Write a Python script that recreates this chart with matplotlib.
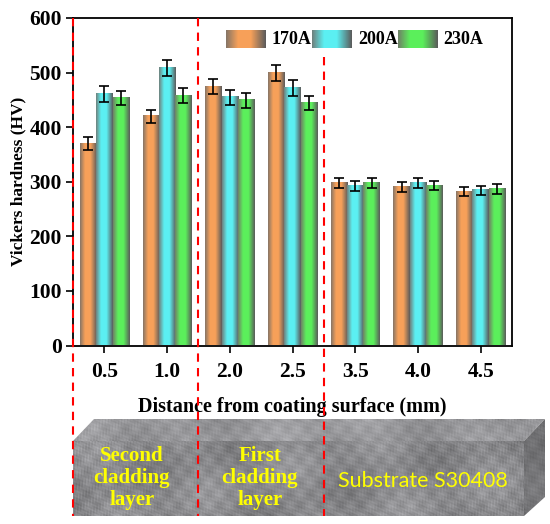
import matplotlib
matplotlib.use("Agg")
import matplotlib.pyplot as plt
import numpy as np
from matplotlib.patches import Polygon
from matplotlib.lines import Line2D
from matplotlib.transforms import blended_transform_factory

plt.rcParams["font.family"] = ["Liberation Serif", "DejaVu Serif"]
plt.rcParams["font.weight"] = "bold"

# ── data ──
distances = ["0.5", "1.0", "2.0", "2.5", "3.5", "4.0", "4.5"]
currents = ["170A", "200A", "230A"]
hv_170 = [370, 420, 474, 499, 297, 291, 282]
hv_200 = [461, 508, 455, 472, 292, 297, 284]
hv_230 = [453, 458, 449, 445, 298, 293, 287]
err_170 = [12, 12, 14, 14, 9, 9, 8]
err_200 = [14, 15, 14, 14, 9, 9, 8]
err_230 = [13, 13, 13, 13, 9, 9, 9]
zone_edges = [-0.5, 1.5, 3.5]

C_ORANGE = np.array([0.97, 0.63, 0.35])
C_CYAN = np.array([0.36, 0.94, 0.95])
C_GREEN = np.array([0.36, 0.94, 0.36])


def shaded(color, n=64):
    t = np.linspace(0, 1, n)
    m = np.interp(t, [0, 0.3, 0.62, 1.0], [0.15, 1.0, 1.0, 0.0])
    left = np.array([0.45, 0.43, 0.41])
    right = np.array([0.36, 0.36, 0.36])
    gray = np.where(t[:, None] < 0.5, left, right)
    rgb = gray * (1 - m[:, None]) + color * m[:, None]
    return rgb[None, :, :]


def texture(h, w, base, amp, k):
    # mottled stone-like shading for the specimen photo
    yy, xx = np.mgrid[0:h, 0:w].astype(float)
    v = (0.5 * np.sin(0.045 * xx + 0.03 * yy + k) * np.cos(0.05 * yy - 0.02 * xx)
         + 0.35 * np.sin(0.31 * xx + k) * np.sin(0.27 * yy - k)
         + 0.3 * np.sin(0.83 * xx + 0.57 * yy) * np.cos(0.71 * yy - 1.13 * xx + k)
         + 0.25 * np.sin(1.7 * xx - 0.9 * yy + k) * np.sin(1.3 * yy + 0.6 * xx))
    g = base + amp * v
    return np.clip(np.dstack([g, g, g * 1.02]), 0, 1)


fig = plt.figure(figsize=(5.5, 5.24), dpi=100)
ax = fig.add_axes([73 / 550, 1 - 345.5 / 524, 439 / 550, 327.5 / 524])

x = np.arange(len(distances))
w = 0.26
series = [(hv_170, err_170, C_ORANGE, -w), (hv_200, err_200, C_CYAN, 0.0),
          (hv_230, err_230, C_GREEN, w)]
for vals, errs, col, off in series:
    bars = ax.bar(x + off, vals, w, color="none", edgecolor="none")
    grad = shaded(col)
    for r in bars:
        ax.imshow(grad, extent=(r.get_x(), r.get_x() + r.get_width(), 0, r.get_height()),
                  aspect="auto", zorder=2, interpolation="bilinear")
    ax.errorbar(x + off, vals, yerr=errs, fmt="none", ecolor="black", elinewidth=1.2,
                capsize=3.5, capthick=1.2, zorder=3)

ax.set_xticks(x)
ax.set_xticklabels(distances)
ax.set_yticks(np.arange(0, 601, 100))
ax.tick_params(axis="both", labelsize=15.5, width=1.2, length=5, direction="out", pad=3)
ax.tick_params(axis="x", pad=7)
for sp in ax.spines.values():
    sp.set_linewidth(1.3)
ax.set_ylabel("Vickers hardness (HV)", fontsize=12.5, fontweight="bold", labelpad=2)
ax.set_xlabel("Distance from coating surface (mm)", fontsize=14.5, fontweight="bold", labelpad=11)

# legend drawn by hand so the patches keep the bar shading
leg_x = [(226, 272), (312, 358), (398, 443)]
for (px, tx), col, lab in zip(leg_x, [C_ORANGE, C_CYAN, C_GREEN], currents):
    x0 = (px - 73) / 439
    x1 = (px + 40 - 73) / 439
    y0 = (345.5 - 48) / 327.5
    y1 = (345.5 - 30) / 327.5
    ax.imshow(shaded(col), extent=(x0, x1, y0, y1), transform=ax.transAxes,
              aspect="auto", zorder=4, interpolation="bilinear")
    ax.text((tx - 73) / 439, (y0 + y1) / 2, lab, transform=ax.transAxes, fontsize=13,
            fontweight="bold", va="center", ha="left", zorder=5)
ax.set_xlim(-0.5, 6.5)
ax.set_ylim(0, 600)

# ── specimen block underneath ──
ov = fig.add_axes([0, 0, 1, 1], zorder=5)
ov.set_xlim(0, 550)
ov.set_ylim(524, 0)
ov.axis("off")
ov.patch.set_alpha(0)

faces = [
    ([(73, 441), (524, 441), (524, 516), (73, 516)], 0.54, 0.12, 0.3),
    ([(73, 441), (94, 419), (545, 419), (524, 441)], 0.60, 0.10, 1.1),
    ([(524, 441), (545, 419), (545, 497), (524, 516)], 0.44, 0.08, 2.0),
]
for pts, base, amp, k in faces:
    poly = Polygon(pts, closed=True, facecolor="none", edgecolor="none")
    ov.add_patch(poly)
    xs = [p[0] for p in pts]
    ys = [p[1] for p in pts]
    img = texture(int(max(ys) - min(ys)) + 1, int(max(xs) - min(xs)) + 1, base, amp, k)
    im = ov.imshow(img, extent=(min(xs), max(xs), max(ys), min(ys)), aspect="auto",
                   interpolation="bilinear")
    im.set_clip_path(poly)

ov.text(132, 478, "Second\ncladding\nlayer", color="#FFFF00", fontsize=15,
        fontweight="bold", ha="center", va="center", linespacing=1.15)
ov.text(260, 478, "First\ncladding\nlayer", color="#FFFF00", fontsize=15,
        fontweight="bold", ha="center", va="center", linespacing=1.15)
ov.text(423, 481, "Substrate S30408", color="#FFFF00", fontsize=15.5,
        family=["Lato", "DejaVu Sans"], fontweight="normal", ha="center", va="center")

# red dashed zone boundaries
tr = blended_transform_factory(ax.transData, fig.transFigure)
for xe in zone_edges:
    top = (1 - 57 / 524) if xe > 3 else (1 - 18 / 524)
    fig.add_artist(Line2D([xe, xe], [top, 1 - 516 / 524], transform=tr, color="red",
                          lw=1.5, ls=(0, (4, 3)), zorder=10))

fig.savefig("out.png", dpi=100)
